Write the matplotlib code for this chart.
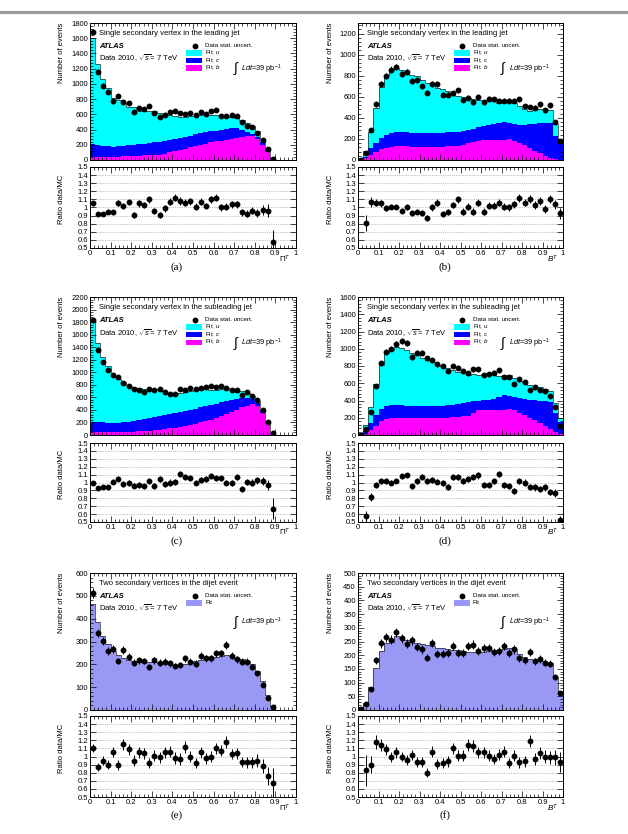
import numpy as np
import matplotlib
matplotlib.use("Agg")
import matplotlib.pyplot as plt
from matplotlib.patches import Rectangle
from matplotlib.lines import Line2D
from matplotlib.ticker import MultipleLocator, FuncFormatter

plt.rcParams['font.family'] = ['Liberation Sans', 'DejaVu Sans']
plt.rcParams['mathtext.fontset'] = 'custom'
plt.rcParams['mathtext.rm'] = 'Liberation Sans'
plt.rcParams['mathtext.it'] = 'Liberation Sans:italic'
plt.rcParams['mathtext.bf'] = 'Liberation Sans:bold'

W, H = 628, 834

N = None

# ---- (a) single SV, leading jet, Pi^T ----
# stack tops: b, b+c, b+c+u
a_b = [45, 45, 45, 45, 45, 45, 50, 50, 55, 55, 60, 60, 65, 70, 80, 100, 120, 130, 150, 170,
       185, 200, 215, 230, 245, 255, 265, 275, 290, 305, 315, 310, 280, 200, 100, 15, 0, 0, 0, 0]
a_bc = [205, 200, 190, 180, 175, 180, 185, 195, 200, 210, 215, 225, 230, 240, 250, 260, 270, 285, 300, 320,
        340, 355, 365, 375, 385, 395, 410, 420, 420, 400, 370, 340, 300, 240, 130, 22, 0, 0, 0, 0]
a_all = [1600, 1260, 1060, 950, 820, 790, 750, 700, 690, 650, 650, 640, 640, 620, 600, 590, 575, 570, 570, 575,
         580, 585, 590, 590, 585, 580, 575, 570, 555, 530, 490, 450, 380, 265, 145, 25, 0, 0, 0, 0]
a_data = [1680, 1160, 975, 900, 770, 837, 765, 750, 628, 683, 670, 704, 614, 564, 594, 631, 644, 616, 604, 621,
          586, 626, 602, 649, 655, 580, 581, 593, 577, 498, 451, 432, 353, 257, 139, 14, N, N, N, N]
a_ratio = [1.05, 0.92, 0.92, 0.95, 0.94, 1.06, 1.02, 1.07, 0.91, 1.05, 1.03, 1.10, 0.96, 0.91, 0.99, 1.07, 1.12, 1.08, 1.06, 1.08,
           1.01, 1.07, 1.02, 1.10, 1.12, 1.00, 1.01, 1.04, 1.04, 0.94, 0.92, 0.96, 0.93, 0.97, 0.96, 0.57, N, N, N, N]

# ---- (b) single SV, leading jet, B^T ----
b_b = [2, 15, 45, 80, 105, 118, 125, 130, 130, 130, 128, 127, 125, 125, 125, 125, 127, 130, 130, 135,
       145, 160, 175, 185, 190, 190, 188, 188, 190, 195, 185, 165, 140, 115, 90, 65, 40, 20, 8, 3]
b_bc = [5, 30, 110, 165, 210, 240, 260, 265, 265, 262, 258, 258, 255, 255, 255, 255, 258, 262, 265, 270,
        275, 285, 295, 310, 320, 330, 345, 355, 360, 350, 340, 330, 335, 340, 345, 350, 355, 355, 230, 165]
b_all = [20, 86, 264, 498, 690, 808, 850, 870, 850, 825, 808, 795, 755, 735, 715, 685, 670, 655, 625, 605,
         598, 588, 578, 570, 572, 568, 562, 545, 552, 556, 540, 515, 485, 465, 478, 485, 480, 470, 344, 196]
b_data = [3, 70, 282, 528, 723, 800, 858, 880, 816, 832, 752, 758, 698, 640, 720, 720, 618, 618, 634, 662,
          570, 592, 550, 598, 550, 582, 576, 560, 560, 560, 560, 576, 512, 502, 496, 528, 474, 518, 358, 182]
b_ratio = [N, 0.81, 1.07, 1.06, 1.05, 0.99, 1.01, 1.01, 0.96, 1.01, 0.93, 0.95, 0.93, 0.87, 1.00, 1.06, 0.92, 0.94, 1.03, 1.10,
           0.95, 1.01, 0.95, 1.06, 0.95, 1.02, 1.02, 1.06, 1.01, 1.00, 1.04, 1.12, 1.06, 1.10, 1.03, 1.08, 0.98, 1.10, 1.04, 0.93]

# ---- (c) single SV, subleading jet, Pi^T ----
c_b = [40, 40, 40, 40, 40, 45, 45, 50, 55, 60, 65, 70, 75, 85, 95, 105, 115, 130, 145, 160,
       180, 200, 220, 245, 270, 300, 330, 360, 400, 440, 470, 490, 460, 350, 190, 30, 0, 0, 0, 0]
c_bc = [215, 210, 200, 195, 190, 195, 205, 215, 225, 240, 255, 270, 285, 300, 315, 330, 345, 360, 380, 400,
        420, 440, 460, 480, 500, 520, 540, 560, 580, 590, 590, 570, 510, 380, 210, 36, 0, 0, 0, 0]
c_all = [1820, 1460, 1240, 1100, 945, 890, 840, 790, 770, 748, 730, 725, 740, 715, 695, 665, 655, 668, 680, 700,
         720, 725, 735, 725, 725, 735, 745, 730, 690, 700, 675, 628, 537, 395, 222, 40, 0, 0, 0, 0]
c_data = [1826, 1359, 1165, 1031, 950, 929, 822, 779, 741, 725, 693, 736, 725, 741, 682, 660, 660, 741, 725, 752,
          736, 746, 768, 779, 768, 779, 752, 725, 725, 644, 682, 628, 553, 403, 215, 27, N, N, N, N]
c_ratio = [1.00, 0.93, 0.94, 0.94, 1.01, 1.05, 0.98, 0.99, 0.96, 0.97, 0.95, 1.02, 0.96, 1.04, 0.98, 1.00, 1.01, 1.11, 1.07, 1.06,
           1.00, 1.03, 1.04, 1.08, 1.06, 1.06, 1.00, 0.99, 1.07, 0.92, 1.01, 1.00, 1.03, 1.02, 0.97, 0.67, N, N, N, N]

# ---- (d) single SV, subleading jet, B^T ----
d_b = [2, 15, 60, 110, 160, 185, 195, 200, 200, 200, 198, 195, 195, 195, 195, 195, 198, 200, 205, 210,
       215, 220, 260, 285, 290, 290, 290, 290, 295, 300, 285, 260, 235, 200, 170, 140, 105, 75, 40, 15]
d_bc = [5, 45, 140, 230, 300, 335, 345, 345, 345, 340, 340, 340, 340, 340, 335, 335, 340, 345, 350, 360,
        375, 385, 395, 400, 405, 410, 420, 440, 460, 455, 440, 430, 420, 410, 405, 400, 390, 380, 250, 150]
d_all = [20, 116, 320, 590, 815, 945, 990, 1020, 1010, 980, 955, 930, 895, 870, 845, 815, 800, 780, 755, 735,
         725, 700, 705, 700, 710, 715, 705, 680, 690, 690, 665, 630, 610, 580, 570, 555, 535, 510, 370, 200]
d_data = [5, 66, 265, 573, 831, 967, 1002, 1053, 1092, 1065, 905, 955, 955, 889, 866, 819, 800, 741, 800, 780,
          741, 714, 760, 760, 694, 702, 721, 749, 675, 671, 597, 644, 612, 527, 558, 519, 507, 449, 324, 105]
d_ratio = [N, 0.57, 0.82, 0.97, 1.02, 1.02, 1.00, 1.02, 1.08, 1.09, 0.95, 1.02, 1.07, 1.02, 1.03, 1.01, 0.99, 0.94, 1.07, 1.07,
           1.02, 1.04, 1.07, 1.09, 0.97, 0.97, 1.02, 1.11, 0.97, 0.96, 0.89, 1.02, 1.00, 0.94, 0.94, 0.92, 0.94, 0.88, 0.87, 0.52]

# ---- (e) two SV, Pi^T ----
e_fit = [465, 385, 325, 290, 260, 240, 228, 218, 215, 212, 210, 210, 210, 208, 205, 200, 198, 200, 203, 208,
         215, 220, 225, 228, 230, 235, 240, 235, 225, 222, 215, 200, 170, 125, 65, 18, 2, 0, 0, 0]
e_data = [511, 336, 304, 259, 267, 215, 262, 233, 207, 218, 215, 188, 218, 207, 212, 204, 193, 197, 227, 212,
          203, 237, 227, 227, 249, 249, 286, 237, 222, 212, 212, 188, 163, 111, 52, 12, N, N, N, N]
e_ratio = [1.10, 0.87, 0.95, 0.90, 1.06, 0.90, 1.15, 1.09, 0.95, 1.05, 1.04, 0.92, 1.01, 0.99, 1.05, 1.06, 0.98, 0.97, 1.12, 1.00,
           0.92, 1.05, 0.98, 1.00, 1.10, 1.07, 1.18, 1.03, 1.04, 0.93, 0.93, 0.93, 0.95, 0.88, 0.76, 0.67, N, N, N, N]

# ---- (f) two SV, B^T ----
f_fit = [5, 25, 83, 153, 215, 245, 250, 270, 262, 255, 250, 245, 240, 238, 232, 228, 225, 222, 220, 218,
         215, 212, 210, 210, 212, 215, 218, 220, 222, 225, 222, 205, 195, 185, 182, 180, 175, 170, 120, 62]
f_data = [2, 23, 75, 181, 243, 266, 256, 284, 261, 242, 255, 231, 221, 191, 245, 203, 205, 209, 233, 209,
          209, 233, 239, 217, 225, 225, 212, 215, 233, 209, 221, 188, 181, 212, 178, 187, 172, 169, 120, 61]
f_ratio = [N, 0.83, 0.90, 1.18, 1.14, 1.09, 0.99, 1.05, 1.00, 0.96, 1.02, 0.93, 0.93, 0.80, 1.06, 0.91, 0.92, 0.94, 1.10, 1.01,
           1.01, 1.14, 1.13, 1.05, 1.05, 1.01, 0.97, 1.02, 1.06, 0.92, 1.01, 0.93, 0.94, 1.19, 0.97, 1.04, 1.00, 0.99, 0.99, 0.93]

CYAN = '#00ffff'
BLUE = '#0000ff'
MAGENTA = '#ff00ff'
LAVENDER = '#9999f5'

edges = np.linspace(0.0, 1.0, 41)
centers = 0.5 * (edges[:-1] + edges[1:])


def axes_px(fig, left, top, right, bottom):
    return fig.add_axes([left / W, 1 - bottom / H, (right - left) / W, (bottom - top) / H])


def root_ticks(ax):
    ax.tick_params(which='both', direction='in', top=True, right=True, width=0.5, labelsize=5.5, pad=1.5)
    ax.tick_params(which='major', length=4)
    ax.tick_params(which='minor', length=2)
    for s in ax.spines.values():
        s.set_linewidth(0.7)


def fmt_g(v, pos):
    return '%g' % round(v, 3)


def draw_panel(fig, col, row, stacks, data, ratio, ymax, ymajor, yminor, title, xlabel, letter):
    lefts = [(90, 296), (358, 563)]
    mains = [(23, 160), (297, 435), (573, 710)]
    ratios = [(167, 248), (443, 522), (716, 797)]
    letter_y = [267, 541, 815]
    x0, x1 = lefts[col]

    ax = axes_px(fig, x0, mains[row][0], x1, mains[row][1])
    axr = axes_px(fig, x0, ratios[row][0], x1, ratios[row][1])

    data = np.array(data, dtype=float)
    ratio = np.array(ratio, dtype=float)
    total = np.array(stacks[-1][0], dtype=float)

    # stacked fit templates, drawn from the top of the stack down
    for vals, color in stacks[::-1]:
        ax.stairs(vals, edges, fill=True, color=color, lw=0)
    ax.stairs(total, edges, color='#222222', lw=0.5)

    ax.errorbar(centers, data, yerr=np.sqrt(np.nan_to_num(data)), fmt='o', color='black',
                ms=3.2, elinewidth=0.7, capsize=0)

    ax.set_xlim(0, 1)
    ax.set_ylim(0, ymax)
    ax.xaxis.set_major_locator(MultipleLocator(0.1))
    ax.xaxis.set_minor_locator(MultipleLocator(0.02))
    ax.yaxis.set_major_locator(MultipleLocator(ymajor))
    ax.yaxis.set_minor_locator(MultipleLocator(yminor))
    root_ticks(ax)
    ax.tick_params(labelbottom=False)

    ax.text(-0.136, 1.0, 'Number of events', transform=ax.transAxes, rotation=90,
            ha='center', va='top', fontsize=5.5)

    # labels inside the main pad
    ax.text(0.045, 0.925, title, transform=ax.transAxes, fontsize=5.5, va='center')
    ax.text(0.045, 0.83, 'ATLAS', transform=ax.transAxes, fontsize=5.5, va='center',
            fontweight='bold', fontstyle='italic')
    ax.text(0.045, 0.74, r'Data 2010, $\sqrt{s}$= 7 TeV', transform=ax.transAxes, fontsize=5.5, va='center')

    ax.plot([0.508], [0.835], 'o', color='black', ms=3.2, transform=ax.transAxes, clip_on=False)
    ax.text(0.56, 0.835, 'Data stat. uncert.', transform=ax.transAxes, fontsize=4.5, va='center')
    if len(stacks) == 3:
        names = ['Fit, $u$', 'Fit, $c$', 'Fit, $b$']
        colors = [CYAN, BLUE, MAGENTA]
        ys = [0.782, 0.727, 0.672]
    else:
        names = ['Fit']
        colors = [LAVENDER]
        ys = [0.782]
    for name, color, y in zip(names, colors, ys):
        ax.add_patch(Rectangle((0.468, y - 0.02), 0.078, 0.04, transform=ax.transAxes,
                               color=color, lw=0, clip_on=False))
        ax.text(0.56, y, name, transform=ax.transAxes, fontsize=4.5, va='center')

    lumi_y = 0.665 if len(stacks) == 3 else 0.64
    ax.text(0.712, lumi_y, r'$\int$', transform=ax.transAxes, fontsize=10, va='center', ha='center')
    ax.text(0.735, lumi_y, r'$Ldt$=39 pb$^{-1}$', transform=ax.transAxes, fontsize=5.3, va='center')

    # ratio pad
    mc = np.where(total > 0, total, np.nan)
    rerr = np.sqrt(np.nan_to_num(data)) / mc
    axr.errorbar(centers, ratio, yerr=rerr, fmt='o', color='black', ms=3.2, elinewidth=0.7, capsize=0)
    axr.set_xlim(0, 1)
    axr.set_ylim(0.5, 1.5)
    axr.xaxis.set_major_locator(MultipleLocator(0.1))
    axr.xaxis.set_minor_locator(MultipleLocator(0.02))
    axr.yaxis.set_major_locator(MultipleLocator(0.1))
    axr.xaxis.set_major_formatter(FuncFormatter(fmt_g))
    axr.yaxis.set_major_formatter(FuncFormatter(fmt_g))
    axr.yaxis.grid(True, ls=':', color='#888888', lw=0.5)
    root_ticks(axr)
    axr.text(-0.136, 0.6, 'Ratio data/MC', transform=axr.transAxes, rotation=90,
             ha='center', va='center', fontsize=5.5)
    axr.text(0.948, -0.135, xlabel, transform=axr.transAxes, ha='center', va='center', fontsize=5.8)

    fig.text((x0 + x1) / 2 / W - 16 / W, 1 - letter_y[row] / H, letter, ha='center', va='center',
             fontsize=8, family=['Liberation Serif', 'DejaVu Serif'])


fig = plt.figure(figsize=(W / 100, H / 100), dpi=100)

# page frame line at the very top
fig.add_artist(Line2D([0, 1], [1 - 11.5 / H, 1 - 11.5 / H], color='#9a9a9a', lw=2.3))

lead = 'Single secondary vertex in the leading jet'
sub = 'Single secondary vertex in the subleading jet'
two = 'Two secondary vertices in the dijet event'
PI = r'$\Pi^{T}$'
BT = r'$B^{T}$'

draw_panel(fig, 0, 0, [(a_b, MAGENTA), (a_bc, BLUE), (a_all, CYAN)],
           a_data, a_ratio, 1800, 200, 40, lead, PI, '(a)')
draw_panel(fig, 1, 0, [(b_b, MAGENTA), (b_bc, BLUE), (b_all, CYAN)],
           b_data, b_ratio, 1300, 200, 40, lead, BT, '(b)')
draw_panel(fig, 0, 1, [(c_b, MAGENTA), (c_bc, BLUE), (c_all, CYAN)],
           c_data, c_ratio, 2200, 200, 40, sub, PI, '(c)')
draw_panel(fig, 1, 1, [(d_b, MAGENTA), (d_bc, BLUE), (d_all, CYAN)],
           d_data, d_ratio, 1600, 200, 40, sub, BT, '(d)')
draw_panel(fig, 0, 2, [(e_fit, LAVENDER)],
           e_data, e_ratio, 600, 100, 20, two, PI, '(e)')
draw_panel(fig, 1, 2, [(f_fit, LAVENDER)],
           f_data, f_ratio, 500, 50, 10, two, BT, '(f)')

fig.savefig('out.png', dpi=100)
